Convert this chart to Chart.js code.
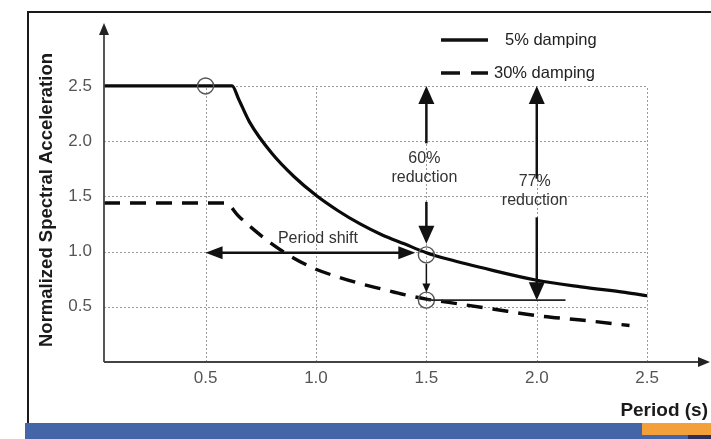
<!DOCTYPE html>
<html>
<head>
<meta charset="utf-8">
<script src="https://cdn.jsdelivr.net/npm/chart.js@4.4.1/dist/chart.umd.min.js"></script>
<style>
  html, body { margin: 0; padding: 0; background: #fff; }
  #wrap { width: 711px; height: 439px; position: relative; }
</style>
</head>
<body>
<div id="wrap"><canvas id="c" width="711" height="439"></canvas></div>
<script>
// ---- data ----
const periods5 = [0.04, 0.62, 0.65, 0.70, 0.80, 0.90, 1.00, 1.10, 1.20, 1.30, 1.40, 1.50, 1.60, 1.80, 2.00, 2.20, 2.40, 2.50];
const accel5   = [2.50, 2.50, 2.38, 2.17, 1.89, 1.68, 1.51, 1.37, 1.25, 1.15, 1.07, 0.99, 0.93, 0.83, 0.74, 0.68, 0.63, 0.60];
const periods30 = [0.04, 0.59, 0.65, 0.70, 0.80, 0.90, 1.00, 1.10, 1.20, 1.30, 1.40, 1.50, 1.60, 1.80, 2.00, 2.20, 2.42];
const accel30   = [1.44, 1.44, 1.32, 1.23, 1.07, 0.94, 0.84, 0.77, 0.71, 0.66, 0.61, 0.57, 0.54, 0.48, 0.42, 0.38, 0.33];
const xTickValues = [0.5, 1.0, 1.5, 2.0, 2.5];
const yTickValues = [0.5, 1.0, 1.5, 2.0, 2.5];
const seriesNames = ["5% damping", "30% damping"];
const axisTitles = { x: "Period (s)", y: "Normalized Spectral Acceleration" };

// annotation content (data units)
const markerCircles = [[0.5, 2.5], [1.5, 0.97], [1.5, 0.56]];
const shiftArrow = { from: [0.5, 0.99], to: [1.45, 0.99], label: "Period shift", labelAt: [1.0, 1.12] };
const reductionArrows = [
  { x: 1.5, top: 2.5, upperEnd: 1.98, lowerStart: 1.45, lowerEnd: 1.07, lines: ["60%", "reduction"], labelY: 1.84 },
  { x: 2.0, top: 2.5, upperEnd: 1.66, lowerStart: 1.31, lowerEnd: 0.56, lines: ["77%", "reduction"], labelY: 1.63 }
];
const dropArrow = { x: 1.5, from: 0.89, to: 0.63 };
const refLine = { y: 0.56, from: 1.5, to: 2.13 };

const FONT = '"Liberation Sans", Arial, Helvetica, sans-serif';

function toPts(xs, ys) { return xs.map((x, i) => ({ x: x, y: ys[i] })); }

function arrowHead(ctx, x1, y1, x2, y2, len, wid) {
  const a = Math.atan2(y2 - y1, x2 - x1);
  const bx = x2 - len * Math.cos(a), by = y2 - len * Math.sin(a);
  const nx = -Math.sin(a) * wid / 2, ny = Math.cos(a) * wid / 2;
  ctx.beginPath();
  ctx.moveTo(x2, y2);
  ctx.lineTo(bx + nx, by + ny);
  ctx.lineTo(bx - nx, by - ny);
  ctx.closePath();
  ctx.fill();
}
function arrow(ctx, x1, y1, x2, y2, len, wid, lw, both) {
  ctx.lineWidth = lw;
  let sx = x1, sy = y1;
  const a = Math.atan2(y2 - y1, x2 - x1);
  const ex = x2 - (len - 1) * Math.cos(a), ey = y2 - (len - 1) * Math.sin(a);
  if (both) { sx = x1 + (len - 1) * Math.cos(a); sy = y1 + (len - 1) * Math.sin(a); }
  ctx.beginPath(); ctx.moveTo(sx, sy); ctx.lineTo(ex, ey); ctx.stroke();
  arrowHead(ctx, x1, y1, x2, y2, len, wid);
  if (both) arrowHead(ctx, x2, y2, x1, y1, len, wid);
}

const decor = {
  id: 'decor',
  beforeDraw(chart) {
    const ctx = chart.ctx;
    ctx.save();
    ctx.fillStyle = '#ffffff';
    ctx.fillRect(0, 0, chart.width, chart.height);
    // outer frame
    ctx.strokeStyle = '#1a1a1a';
    ctx.lineWidth = 2;
    ctx.beginPath();
    ctx.moveTo(28, 423); ctx.lineTo(28, 12); ctx.lineTo(711, 12);
    ctx.stroke();
    // bottom bars
    ctx.fillStyle = '#4466a8';
    ctx.fillRect(25, 423, 686, 16);
    ctx.fillStyle = '#f4a03a';
    ctx.fillRect(642, 423, 69, 12);
    ctx.fillStyle = '#2b2f5a';
    ctx.fillRect(688, 435, 23, 4);
    ctx.restore();
  },
  beforeDatasetsDraw(chart) {
    const ctx = chart.ctx, xs = chart.scales.x, ys = chart.scales.y;
    const xl = xs.getPixelForValue(xs.min), xr = xs.getPixelForValue(2.5);
    const yb = ys.getPixelForValue(0), yt = ys.getPixelForValue(2.5);
    ctx.save();
    ctx.strokeStyle = '#9a9a9a';
    ctx.lineWidth = 1;
    ctx.setLineDash([2, 2]);
    yTickValues.forEach(v => {
      const y = Math.round(ys.getPixelForValue(v)) + 0.5;
      ctx.beginPath(); ctx.moveTo(xl, y); ctx.lineTo(xr, y); ctx.stroke();
    });
    xTickValues.forEach(v => {
      const x = Math.round(xs.getPixelForValue(v)) + 0.5;
      ctx.beginPath(); ctx.moveTo(x, yb); ctx.lineTo(x, yt); ctx.stroke();
    });
    ctx.restore();
  },
  afterDatasetsDraw(chart) {
    const ctx = chart.ctx, xs = chart.scales.x, ys = chart.scales.y;
    const px = v => xs.getPixelForValue(v), py = v => ys.getPixelForValue(v);
    const ca = chart.chartArea;
    ctx.save();
    // axes with arrows
    ctx.strokeStyle = '#444'; ctx.fillStyle = '#222';
    arrow(ctx, ca.left, py(0), ca.left, ca.top, 12, 10, 1.8, false);
    arrow(ctx, px(xs.min), py(0), chart.width - 1, py(0), 12, 10, 1.8, false);

    // marker circles
    ctx.strokeStyle = '#555'; ctx.lineWidth = 1.4;
    markerCircles.forEach(p => {
      ctx.beginPath(); ctx.arc(px(p[0]), py(p[1]), 8, 0, Math.PI * 2); ctx.stroke();
    });

    ctx.strokeStyle = '#111'; ctx.fillStyle = '#111';
    // period shift double arrow
    arrow(ctx, px(shiftArrow.from[0]), py(shiftArrow.from[1]), px(shiftArrow.to[0]), py(shiftArrow.to[1]), 17, 13, 2.5, true);
    // reduction arrows
    reductionArrows.forEach(r => {
      arrow(ctx, px(r.x), py(r.upperEnd), px(r.x), py(r.top), 18, 16, 2.5, false);
      arrow(ctx, px(r.x), py(r.lowerStart), px(r.x), py(r.lowerEnd), 18, 16, 2.5, false);
    });
    // small drop arrow
    arrow(ctx, px(dropArrow.x), py(dropArrow.from), px(dropArrow.x), py(dropArrow.to), 9, 8, 1.5, false);
    // reference line
    ctx.lineWidth = 1.6; ctx.strokeStyle = '#222';
    ctx.beginPath(); ctx.moveTo(px(refLine.from), py(refLine.y)); ctx.lineTo(px(refLine.to), py(refLine.y)); ctx.stroke();

    // texts
    ctx.fillStyle = '#333';
    ctx.font = '16px ' + FONT;
    ctx.textAlign = 'center'; ctx.textBaseline = 'middle';
    ctx.fillText(shiftArrow.label, px(shiftArrow.labelAt[0]) + 2, py(shiftArrow.labelAt[1]));
    reductionArrows.forEach(r => {
      r.lines.forEach((t, i) => ctx.fillText(t, px(r.x) - 2, py(r.labelY) + i * 19));
    });

    // legend
    ctx.strokeStyle = '#111'; ctx.lineWidth = 3.4;
    ctx.beginPath(); ctx.moveTo(441, 40); ctx.lineTo(488, 40); ctx.stroke();
    ctx.beginPath(); ctx.moveTo(441, 73); ctx.lineTo(460, 73); ctx.moveTo(471, 73); ctx.lineTo(488, 73); ctx.stroke();
    ctx.fillStyle = '#222'; ctx.textAlign = 'left'; ctx.font = '16.5px ' + FONT;
    ctx.fillText(seriesNames[0], 505, 40);
    ctx.fillText(seriesNames[1], 494, 73);

    // axis titles
    ctx.fillStyle = '#1a1a1a';
    ctx.font = 'bold 19px ' + FONT;
    ctx.textAlign = 'right';
    ctx.fillText(axisTitles.x, 708, 411);
    ctx.save();
    ctx.translate(47, 200);
    ctx.rotate(-Math.PI / 2);
    ctx.textAlign = 'center';
    ctx.font = 'bold 18.5px ' + FONT;
    ctx.fillText(axisTitles.y, 0, 0);
    ctx.restore();
    ctx.restore();
  }
};

new Chart(document.getElementById('c'), {
  type: 'scatter',
  data: {
    datasets: [
      { label: seriesNames[0], data: toPts(periods5, accel5), showLine: true, borderColor: '#0a0a0a', borderWidth: 3.2, pointRadius: 0, cubicInterpolationMode: 'monotone', fill: false },
      { label: seriesNames[1], data: toPts(periods30, accel30), showLine: true, borderColor: '#0a0a0a', borderWidth: 3.4, borderDash: [16, 10], pointRadius: 0, cubicInterpolationMode: 'monotone', fill: false }
    ]
  },
  options: {
    responsive: false,
    animation: false,
    devicePixelRatio: 1,
    layout: { padding: { left: 0, right: 2, top: 23, bottom: 0 } },
    plugins: { legend: { display: false }, tooltip: { enabled: false }, title: { display: false } },
    scales: {
      x: {
        type: 'linear', min: 0.04, max: 2.78,
        afterBuildTicks: s => { s.ticks = xTickValues.map(v => ({ value: v })); },
        afterFit: s => { s.height = 77; },
        grid: { display: false, drawTicks: false },
        border: { display: false },
        ticks: { color: '#555', font: { family: FONT, size: 17 }, padding: 6, maxRotation: 0, autoSkip: false, callback: v => Number(v).toFixed(1) }
      },
      y: {
        type: 'linear', min: 0, max: 3.07,
        afterBuildTicks: s => { s.ticks = yTickValues.map(v => ({ value: v })); },
        afterFit: s => { s.width = 104; },
        grid: { display: false, drawTicks: false },
        border: { display: false },
        ticks: { color: '#555', font: { family: FONT, size: 17 }, padding: 12, autoSkip: false, callback: v => Number(v).toFixed(1) }
      }
    }
  },
  plugins: [decor]
});
</script>
</body>
</html>
